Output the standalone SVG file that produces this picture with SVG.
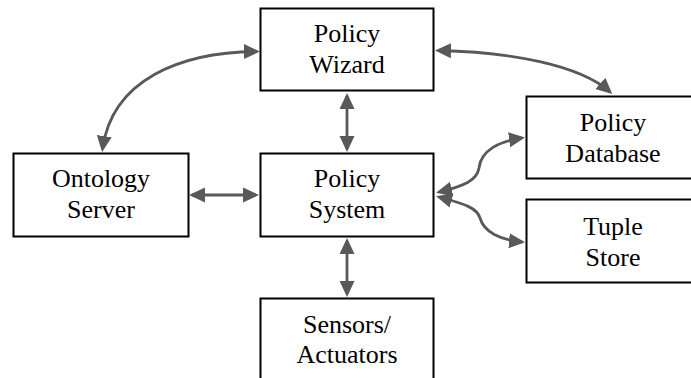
<svg xmlns="http://www.w3.org/2000/svg" width="691" height="378" viewBox="0 0 691 378">
<style>
.box{fill:#fff;stroke:#000;stroke-width:2}
.lbl{font-family:"Liberation Serif",Tinos,"Times New Roman",Times,"Nimbus Roman","Noto Serif","DejaVu Serif",serif;font-size:26px;fill:#000;text-anchor:middle}
.conn{fill:none;stroke:#595959;stroke-width:2.8;marker-start:url(#ah);marker-end:url(#ah)}
</style>
<defs>
<marker id="ah" markerUnits="userSpaceOnUse" markerWidth="17" markerHeight="16" refX="13" refY="7.5" orient="auto-start-reverse" viewBox="0 0 17 15">
<path d="M0,0 L16,7.5 L0,15 z" fill="#595959"/>
</marker>
</defs>
<rect width="691" height="378" fill="#fff"/>
<g id="policy-wizard">
<rect class="box" x="260.5" y="8.5" width="173" height="82"/>
<text class="lbl" x="347" y="42">Policy</text>
<text class="lbl" x="347" y="73">Wizard</text>
</g>
<g id="ontology-server">
<rect class="box" x="13.5" y="153.5" width="175" height="83"/>
<text class="lbl" x="101" y="187">Ontology</text>
<text class="lbl" x="101" y="218">Server</text>
</g>
<g id="policy-system">
<rect class="box" x="260.5" y="153.5" width="173" height="83"/>
<text class="lbl" x="347" y="187">Policy</text>
<text class="lbl" x="347" y="218">System</text>
</g>
<g id="sensors-actuators">
<rect class="box" x="260.5" y="298.5" width="173" height="95"/>
<text class="lbl" x="347" y="333">Sensors/</text>
<text class="lbl" x="347" y="363">Actuators</text>
</g>
<g id="policy-database">
<rect class="box" x="526.5" y="96.5" width="180" height="82"/>
<text class="lbl" x="613" y="131">Policy</text>
<text class="lbl" x="613" y="162">Database</text>
</g>
<g id="tuple-store">
<rect class="box" x="526.5" y="199.5" width="180" height="83"/>
<text class="lbl" x="613" y="235">Tuple</text>
<text class="lbl" x="613" y="266">Store</text>
</g>
<g id="connectors">
<path class="conn" d="M347,96 L347,149"/>
<path class="conn" d="M347,241 L347,294"/>
<path class="conn" d="M192,195 L256,195"/>
<path class="conn" d="M257,51.5 C180,52 112,80 102.5,149"/>
<path class="conn" d="M438,50.5 C510,52 580,65 610,92"/>
<path class="conn" d="M439,192 C465,186 477,180 479,168 C481,150 500,141 522,138"/>
<path class="conn" d="M439,197 C465,204 477,208 480,218 C484,232 500,240 522,242"/>
</g>
</svg>
